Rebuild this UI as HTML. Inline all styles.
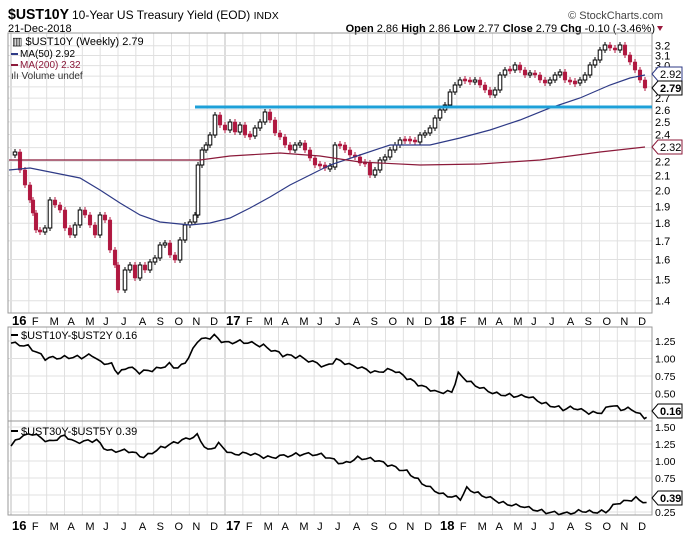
<!DOCTYPE html>
<html><head><meta charset="utf-8"><style>
body{margin:0;background:#fff;width:687px;height:539px;overflow:hidden;font-family:"Liberation Sans",sans-serif}
svg{display:block}
</style></head><body>
<svg id="s" width="687" height="539" xmlns="http://www.w3.org/2000/svg" font-family="Liberation Sans, sans-serif">
<text x="8" y="19" font-size="15" font-weight="bold" fill="#000" textLength="61" lengthAdjust="spacingAndGlyphs">$UST10Y</text>
<text x="72" y="19" font-size="12" fill="#000">10-Year US Treasury Yield (EOD) <tspan font-size="10.5">INDX</tspan></text>
<text x="8" y="32" font-size="11" fill="#000">21-Dec-2018</text>
<text x="663" y="19" font-size="11" fill="#444" text-anchor="end">© StockCharts.com</text>
<text x="655" y="32" font-size="11" fill="#000" text-anchor="end"><tspan font-weight="bold">Open</tspan> 2.86 <tspan font-weight="bold">High</tspan> 2.86 <tspan font-weight="bold">Low</tspan> 2.77 <tspan font-weight="bold">Close</tspan> 2.79 <tspan font-weight="bold">Chg</tspan> -0.10 (-3.46%)</text>
<path d="M657,26 L663,26 L660,31Z" fill="#9b1b3f"/>
<g id="g"></g>
</svg>
<script>
(function(){
var g=document.getElementById('g'),h='';
function X(t){return 11+t*214;}
var L=8,R=652;
function PY(v){return 45.7+Math.log(3.2/v)*308.5;}
var mons=['16','F','M','A','M','J','J','A','S','O','N','D','17','F','M','A','M','J','J','A','S','O','N','D','18','F','M','A','M','J','J','A','S','O','N','D'];
function grid(y0,y1){for(var i=0;i<36;i++){var x=X(i/12);h+='<line x1="'+x+'" y1="'+y0+'" x2="'+x+'" y2="'+y1+'" stroke="'+(i%12==0?'#bbb':'#e0e0e0')+'" stroke-width="1"/>';}}
grid(33,313);grid(327,421);grid(421,515);
var ticks=[3.2,3.1,3.0,2.9,2.8,2.7,2.6,2.5,2.4,2.3,2.2,2.1,2.0,1.9,1.8,1.7,1.6,1.5,1.4];
ticks.forEach(function(v){var y=PY(v);h+='<line x1="'+L+'" y1="'+y+'" x2="'+R+'" y2="'+y+'" stroke="#e0e0e0"/>';
if(v!=2.9&&v!=2.8&&v!=2.3)h+='<text x="655" y="'+(y+4)+'" font-size="11">'+v.toFixed(1)+'</text>';});
function P2(v){return 341+(1.25-v)*70;}function P3(v){return 444+(1.25-v)*68;}
[1.25,1,0.75,0.5,0.25].forEach(function(v){var y=P2(v);h+='<line x1="'+L+'" y1="'+y+'" x2="'+R+'" y2="'+y+'" stroke="#e0e0e0"/>';if(v!=0.25)h+='<text x="655" y="'+(y+4)+'" font-size="10.5">'+v.toFixed(2)+'</text>';});
[1.5,1.25,1,0.75,0.5,0.25].forEach(function(v){var y=P3(v);h+='<line x1="'+L+'" y1="'+y+'" x2="'+R+'" y2="'+y+'" stroke="#e0e0e0"/>';h+='<text x="655" y="'+(y+4)+'" font-size="10.5">'+v.toFixed(2)+'</text>';});
h+='<text x="655" y="412" font-size="10.5">0.25</text>';
h+='<rect x="'+L+'" y="33" width="'+(R-L)+'" height="280" fill="none" stroke="#999"/>';
h+='<rect x="'+L+'" y="327" width="'+(R-L)+'" height="94" fill="none" stroke="#999"/>';
h+='<rect x="'+L+'" y="421" width="'+(R-L)+'" height="94" fill="none" stroke="#999"/>';
function mlab(y){for(var i=0;i<36;i++){var x=X(i/12)+(i%12==0?1:3);var yr=i%12==0;h+='<text x="'+x+'" y="'+y+'" font-size="'+(yr?13:11)+'" font-weight="'+(yr?'bold':'normal')+'" fill="#000">'+mons[i]+'</text>';}}
mlab(325);mlab(530);
var c=[[11,155],[15,152],[20,170],[25,185],[30,200],[33,213],[36,230],[40,232],[45,228],[50,200],[55,205],[60,210],[65,228],[70,235],[75,225],[80,210],[85,215],[90,225],[95,235],[100,215],[105,220],[110,250],[115,265],[118,290],[125,270],[130,265],[135,278],[140,265],[145,270],[150,262],[155,258],[160,245],[165,243],[170,255],[175,260],[180,240],[185,225],[190,222],[195,215],[198,165],[202,150],[206,145],[210,135],[215,115],[220,125],[225,130],[230,122],[235,132],[240,125],[245,135],[250,136],[255,128],[260,122],[265,112],[270,120],[275,133],[280,137],[285,145],[290,150],[295,145],[300,143],[305,150],[310,158],[315,165],[320,165],[325,168],[330,167],[335,145],[340,145],[345,150],[350,155],[355,157],[360,163],[365,163],[370,175],[375,170],[380,160],[385,157],[390,150],[395,145],[400,140],[405,140],[410,140],[415,142],[420,135],[425,133],[430,128],[435,118],[440,110],[445,105],[450,92],[455,85],[460,80],[465,80],[470,82],[475,80],[480,85],[485,90],[490,95],[495,90],[500,75],[505,70],[510,70],[515,65],[520,70],[525,75],[530,73],[535,75],[540,80],[545,83],[550,80],[555,75],[560,72],[565,80],[570,82],[575,83],[580,80],[585,75],[590,65],[595,60],[600,50],[605,45],[610,48],[615,50],[620,45],[625,55],[630,62],[635,70],[640,80],[645,88]];
for(var i=1;i<c.length;i++){var x=c[i][0],o=c[i-1][1],cl=c[i][1];var tp=Math.min(o,cl),bt=Math.max(o,cl);if(bt-tp<2){tp-=1;bt+=1;}
var up=cl<o;var col=up?'#000':'#b01840';
h+='<line x1="'+x+'" y1="'+(tp-3)+'" x2="'+x+'" y2="'+(bt+3)+'" stroke="'+col+'"/>';
h+='<rect x="'+(x-1.8)+'" y="'+tp+'" width="3.6" height="'+(bt-tp)+'" fill="'+(up?'#fff':'#b01840')+'" stroke="'+col+'" stroke-width="'+(up?1:0.5)+'"/>';}
function poly(pts,col,w){h+='<polyline fill="none" stroke="'+col+'" stroke-width="'+w+'" points="'+pts.map(function(p){return p.join(',')}).join(' ')+'"/>';}
poly([[9,170],[30,168],[50,172],[80,178],[100,190],[120,203],[140,215],[160,222],[190,225],[210,223],[230,218],[250,208],[270,197],[290,185],[310,175],[330,165],[360,155],[390,145],[430,145],[460,138],[490,130],[520,120],[550,108],[580,98],[610,85],[630,78],[645,75]],'#2e3a86',1.2);
poly([[9,160],[100,160],[200,160],[230,156],[280,153],[320,156],[360,162],[420,165],[480,164],[540,160],[600,152],[645,147]],'#8b1a3a',1.2);
h+='<line x1="195" y1="107" x2="652" y2="107" stroke="#1ea0d8" stroke-width="3"/>';
function series(k,f){var pts=[];for(var i=0;i<k.length-1;i++){var t0=k[i][0],v0=k[i][1],t1=k[i+1][0],v1=k[i+1][1];var n=Math.max(1,Math.round((t1-t0)*52));for(var j=0;j<n;j++){var t=t0+(t1-t0)*j/n,v=v0+(v1-v0)*j/n+Math.sin(t*97+i)*0.025;pts.push([X(t).toFixed(1),f(v).toFixed(1)]);}}var e=k[k.length-1];pts.push([X(e[0]).toFixed(1),f(e[1]).toFixed(1)]);return pts;}
var s2=[[0,1.22],[0.08,1.18],[0.16,1.0],[0.25,1.02],[0.33,1.02],[0.38,1.05],[0.42,0.95],[0.47,0.92],[0.5,0.78],[0.55,0.88],[0.6,0.8],[0.68,0.85],[0.74,0.92],[0.78,0.85],[0.83,1.0],[0.87,1.25],[0.95,1.32],[1.0,1.22],[1.07,1.25],[1.18,1.18],[1.27,1.05],[1.35,1.02],[1.47,0.88],[1.52,0.98],[1.6,0.9],[1.7,0.8],[1.78,0.85],[1.85,0.72],[1.92,0.6],[2.0,0.52],[2.06,0.53],[2.09,0.78],[2.15,0.65],[2.25,0.5],[2.35,0.47],[2.42,0.45],[2.5,0.35],[2.58,0.28],[2.63,0.3],[2.7,0.22],[2.76,0.22],[2.8,0.34],[2.85,0.28],[2.9,0.28],[2.94,0.2],[2.96,0.16],[2.97,0.16]];
var s3=[[0,1.22],[0.04,1.35],[0.1,1.4],[0.18,1.28],[0.25,1.38],[0.3,1.28],[0.4,1.3],[0.45,1.15],[0.55,1.15],[0.62,1.05],[0.7,1.2],[0.8,1.3],[0.87,1.38],[0.92,1.15],[0.97,1.25],[1.03,1.1],[1.1,1.12],[1.2,1.05],[1.35,1.1],[1.45,1.1],[1.55,0.95],[1.62,1.05],[1.7,1.02],[1.78,0.92],[1.85,0.85],[1.92,0.68],[2.0,0.52],[2.1,0.45],[2.13,0.6],[2.2,0.5],[2.3,0.38],[2.4,0.32],[2.5,0.25],[2.58,0.22],[2.67,0.27],[2.72,0.25],[2.78,0.26],[2.83,0.38],[2.88,0.42],[2.92,0.45],[2.97,0.39]];
poly(series(s2,P2),'#000',1.6);poly(series(s3,P3),'#000',1.6);
function tag(y,txt,col,bold){h+='<path d="M652,'+y+' L658,'+(y-7)+' L682,'+(y-7)+' L682,'+(y+7)+' L658,'+(y+7)+'Z" fill="#fff" stroke="'+col+'"/>';h+='<text x="660" y="'+(y+4)+'" font-size="11" font-weight="'+(bold?'bold':'normal')+'" fill="#000">'+txt+'</text>';}
tag(74,'2.92','#2e3a86');tag(88,'2.79','#000',1);tag(147,'2.32','#8b1a3a');tag(411,'0.16','#000',1);tag(498,'0.39','#000',1);
h+='<text x="12" y="45" font-size="11">▥ $UST10Y (Weekly) 2.79</text>';
h+='<line x1="11" y1="54" x2="18" y2="54" stroke="#2e3a86" stroke-width="2"/><text x="20" y="57" font-size="10">MA(50) 2.92</text>';
h+='<line x1="11" y1="65" x2="18" y2="65" stroke="#8b1a3a" stroke-width="2"/><text x="20" y="68" font-size="10" fill="#8b1a3a">MA(200) 2.32</text>';
h+='<text x="11" y="79" font-size="10" fill="#333">ılı Volume undef</text>';
h+='<line x1="11" y1="335" x2="18" y2="335" stroke="#000" stroke-width="2"/><text x="21" y="339" font-size="11">$UST10Y-$UST2Y 0.16</text>';
h+='<line x1="11" y1="431" x2="18" y2="431" stroke="#000" stroke-width="2"/><text x="21" y="435" font-size="11">$UST30Y-$UST5Y 0.39</text>';
g.innerHTML=h;
})();
</script>
</body></html>
